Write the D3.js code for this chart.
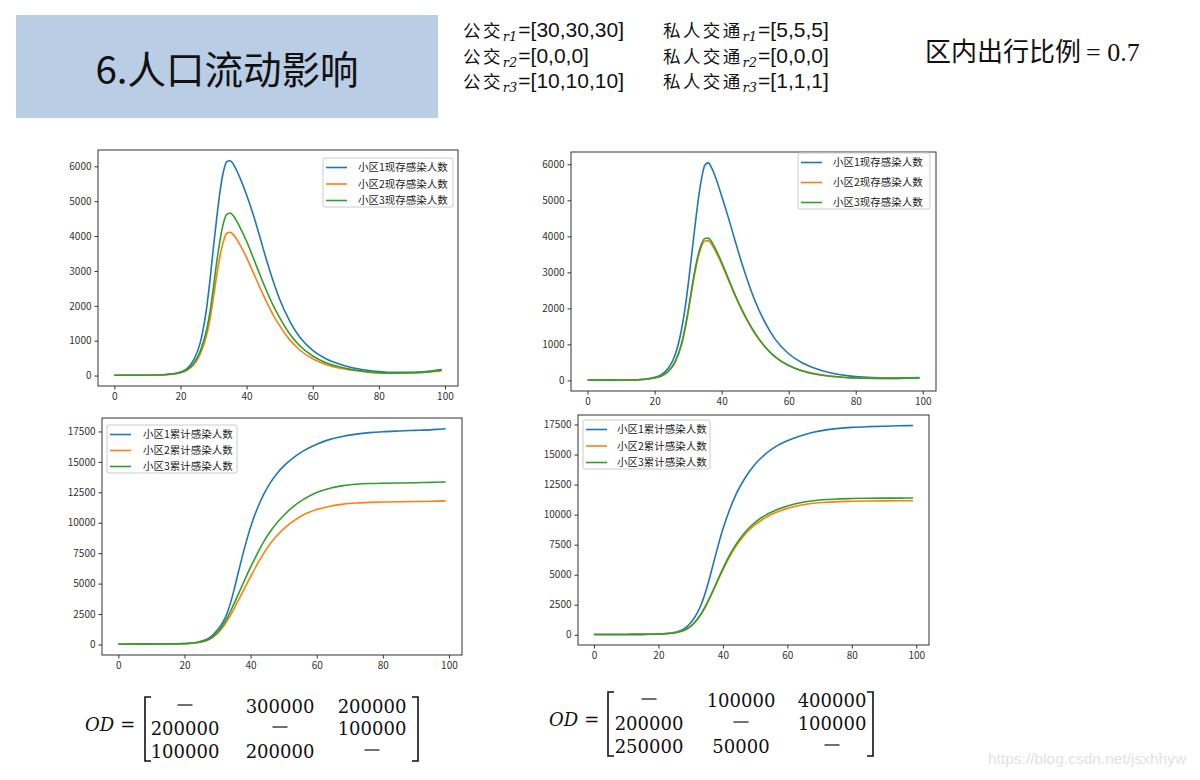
<!DOCTYPE html>
<html><head><meta charset="utf-8">
<script src="https://cdn.jsdelivr.net/npm/d3@7"></script>
<style>body{margin:0;background:#fff}svg{display:block}</style>
</head><body>
<svg id="c" width="1200" height="780"></svg>
<script>
// ---------------- data ----------------
const days = [0,5,10,15,18,20,22,24,26,28,29,30,31,32,33,34,35,36,37,38,40,42,44,46,48,50,53,56,60,64,68,72,76,80,85,90,95,99];

// top-left: current infected
const activeL1 = [10,8,10,25,55,100,200,450,950,2000,2800,3700,4550,5300,5850,6130,6160,6060,5880,5670,5180,4620,3980,3320,2720,2190,1570,1110,720,480,330,225,160,115,90,95,125,175];
const activeL2 = [10,8,10,20,45,80,150,310,620,1200,1650,2250,2900,3450,3850,4080,4110,4040,3910,3750,3380,2960,2530,2120,1750,1430,1030,740,480,320,215,150,105,75,65,75,100,140];
const activeL3 = [10,8,10,22,50,90,170,350,700,1350,1870,2550,3280,3900,4370,4620,4660,4580,4430,4250,3850,3380,2900,2440,2020,1660,1200,860,560,370,250,170,120,85,70,80,105,150];

// top-right: current infected
const activeR1 = [10,8,10,20,45,85,160,330,680,1400,1950,2650,3450,4250,5000,5600,5980,6040,5900,5680,5120,4520,3880,3260,2700,2200,1600,1140,740,490,330,220,150,105,78,68,70,78];
const activeR2 = [10,8,10,18,40,70,120,240,480,980,1380,1880,2450,2980,3420,3720,3870,3880,3780,3620,3230,2790,2350,1950,1600,1290,920,650,410,265,175,120,88,68,58,57,62,70];
const activeR3 = [10,8,10,18,40,72,125,250,500,1010,1420,1930,2510,3050,3490,3790,3940,3950,3850,3680,3280,2830,2380,1975,1620,1305,930,655,415,268,177,121,89,69,59,58,63,72];

// bottom-left: cumulative infected
const cumL1 = [20,25,30,40,55,75,110,190,340,650,900,1200,1560,2020,2650,3480,4500,5600,6700,7750,9650,11150,12350,13300,14050,14650,15350,15900,16450,16850,17100,17280,17400,17480,17540,17590,17650,17720];
const cumL2 = [20,25,30,38,50,65,95,150,260,480,660,900,1200,1560,1980,2450,2950,3470,4000,4530,5580,6580,7500,8300,8950,9500,10150,10650,11080,11360,11530,11620,11670,11700,11720,11740,11770,11800];
const cumL3 = [20,25,30,38,52,68,100,160,280,520,740,1000,1340,1750,2230,2770,3350,3950,4560,5170,6350,7450,8450,9300,10000,10600,11350,11920,12480,12840,13050,13160,13220,13250,13270,13290,13320,13350];

// bottom-right: cumulative infected
const cumR1 = [20,25,30,38,50,65,95,150,260,500,720,1000,1350,1800,2350,3050,3900,4850,5880,6900,8800,10350,11650,12650,13500,14200,15000,15600,16150,16550,16850,17050,17180,17260,17320,17360,17390,17420];
const cumR2 = [20,25,30,36,46,58,82,125,210,380,520,710,950,1250,1620,2050,2540,3080,3660,4250,5400,6450,7350,8080,8680,9160,9720,10130,10520,10780,10940,11030,11080,11110,11130,11145,11155,11160];
const cumR3 = [20,25,30,36,46,58,82,126,212,385,527,720,963,1268,1645,2085,2585,3135,3725,4325,5500,6580,7500,8250,8860,9360,9920,10330,10720,10990,11160,11260,11310,11340,11360,11370,11375,11380];

const activeNames = ["小区1现存感染人数","小区2现存感染人数","小区3现存感染人数"];
const cumNames = ["小区1累计感染人数","小区2累计感染人数","小区3累计感染人数"];
const xTicks = [0,20,40,60,80,100];
const yTicksActive = [0,1000,2000,3000,4000,5000,6000];
const yTicksCum = [0,2500,5000,7500,10000,12500,15000,17500];

const odLeft = [["—","300000","200000"],["200000","—","100000"],["100000","200000","—"]];
const odRight = [["—","100000","400000"],["200000","—","100000"],["250000","50000","—"]];

const title = "6.人口流动影响";
const busParams = [["1","[30,30,30]"],["2","[0,0,0]"],["3","[10,10,10]"]];
const carParams = [["1","[5,5,5]"],["2","[0,0,0]"],["3","[1,1,1]"]];
const ratioLabel = "区内出行比例";
const ratioValue = "= 0.7";
const watermark = "https://blog.csdn.net/jsxhhyw";

// ---------------- drawing ----------------
const colors = ["#1f77b4","#ff7f0e","#2ca02c"];
const svg = d3.select("#c");
const CJK = "'Noto Sans CJK SC','Noto Sans',sans-serif";
const SANS = "'Liberation Sans',Arial,sans-serif";
const SERIF = "'DejaVu Serif','Liberation Serif',serif";

// header
svg.append("rect").attr("x",16).attr("y",15).attr("width",422).attr("height",103).attr("fill","#b9cde5");
svg.append("text").attr("x",227).attr("y",84).attr("text-anchor","middle")
  .attr("font-family",CJK).attr("font-size",38.5).attr("fill","#111").text(title);

function paramLine(x, y, label, sub, val){
  const t = svg.append("text").attr("x",x).attr("y",y).attr("fill","#111");
  t.append("tspan").attr("font-family",CJK).attr("font-size",17.5).attr("letter-spacing",2.4).text(label);
  t.append("tspan").attr("font-family",SERIF).attr("font-style","italic").attr("font-size",13).attr("dy",4).text("r"+sub);
  t.append("tspan").attr("font-family",SANS).attr("font-size",21).attr("dy",-4).attr("dx",1).text("="+val);
}
busParams.forEach((p,i)=>paramLine(463, 37+i*25.5, "公交", p[0], p[1]));
carParams.forEach((p,i)=>paramLine(663, 37+i*25.5, "私人交通", p[0], p[1]));

const rt = svg.append("text").attr("x",925).attr("y",61).attr("fill","#111");
rt.append("tspan").attr("font-family",CJK).attr("font-size",26).text(ratioLabel);
rt.append("tspan").attr("font-family","'Liberation Serif',serif").attr("font-size",26).attr("dx",5).text(ratioValue);

// panels
const panels = [
  {box:[98,150,458,386], data:[activeL1,activeL2,activeL3], names:activeNames, yt:yTicksActive, leg:[323,158,130,49], legText:35},
  {box:[571,152,936,391], data:[activeR1,activeR2,activeR3], names:activeNames, yt:yTicksActive, leg:[798,153,132,56], legText:35},
  {box:[102,418,462,655], data:[cumL1,cumL2,cumL3], names:cumNames, yt:yTicksCum, leg:[107,425,130,48], legText:36},
  {box:[578,415,929,645], data:[cumR1,cumR2,cumR3], names:cumNames, yt:yTicksCum, leg:[583,420,127,49], legText:34}
];

panels.forEach(p=>{
  const [l,t,r,b] = p.box;
  const all = p.data.flat();
  const mn = d3.min(all), mx = d3.max(all), pad = (mx-mn)*0.05;
  const x = d3.scaleLinear().domain([-4.95,103.95]).range([l,r]);
  const y = d3.scaleLinear().domain([mn-pad, mx+pad]).range([b,t]);
  const g = svg.append("g");
  const clipId = "clip"+l;
  g.append("clipPath").attr("id",clipId).append("rect").attr("x",l).attr("y",t).attr("width",r-l).attr("height",b-t);
  const line = d3.line().x((d,i)=>x(days[i])).y(d=>y(d)).curve(d3.curveMonotoneX);
  p.data.forEach((s,i)=>{
    g.append("path").attr("d",line(s)).attr("fill","none").attr("stroke",colors[i])
      .attr("stroke-width",1.6).attr("clip-path",`url(#${clipId})`);
  });
  const ax = g.append("g").attr("transform",`translate(0,${b})`)
    .call(d3.axisBottom(x).tickValues(xTicks).tickSize(3.5).tickPadding(3));
  const ay = g.append("g").attr("transform",`translate(${l},0)`)
    .call(d3.axisLeft(y).tickValues(p.yt).tickSize(3.5).tickPadding(3).tickFormat(d3.format("d")));
  [ax,ay].forEach(a=>{
    a.select(".domain").remove();
    a.selectAll("line").attr("stroke","#333");
    a.selectAll("text").attr("font-family",CJK).attr("font-size",10).attr("fill","#333");
  });
  g.append("rect").attr("x",l).attr("y",t).attr("width",r-l).attr("height",b-t)
    .attr("fill","none").attr("stroke","#333").attr("stroke-width",1);
  const [lx,ly,lw,lh] = p.leg;
  g.append("rect").attr("x",lx).attr("y",ly).attr("width",lw).attr("height",lh).attr("rx",2)
    .attr("fill","#fff").attr("fill-opacity",0.85).attr("stroke","#ccc");
  const rowH = (lh-16)/2;
  p.names.forEach((n,i)=>{
    const ry = ly+9.5+i*rowH;
    g.append("line").attr("x1",lx+3).attr("x2",lx+24).attr("y1",ry).attr("y2",ry)
      .attr("stroke",colors[i]).attr("stroke-width",1.6);
    g.append("text").attr("x",lx+p.legText).attr("y",ry+3.8).attr("font-family",CJK)
      .attr("font-size",10.5).attr("fill","#222").text(n);
  });
});

// OD matrices
function matrix(od, odX, bx0, bx1, cols, rows, top, bottom){
  const t = svg.append("text").attr("x",odX).attr("y",rows[1]-4).attr("font-family",SERIF).attr("font-size",18).attr("fill","#111");
  t.append("tspan").attr("font-style","italic").text("OD");
  t.append("tspan").attr("dx",6).text("=");
  const br = (x, dir)=>`M${x+dir*6},${top} L${x},${top} L${x},${bottom} L${x+dir*6},${bottom}`;
  svg.append("path").attr("d",br(bx0,1)).attr("fill","none").attr("stroke","#111").attr("stroke-width",1.6);
  svg.append("path").attr("d",br(bx1,-1)).attr("fill","none").attr("stroke","#111").attr("stroke-width",1.6);
  od.forEach((row,i)=>row.forEach((v,j)=>{
    if (v==="—") {
      svg.append("line").attr("x1",cols[j]-7.5).attr("x2",cols[j]+7.5)
        .attr("y1",rows[i]-8).attr("y2",rows[i]-8).attr("stroke","#111").attr("stroke-width",1.2);
    } else {
      svg.append("text").attr("x",cols[j]).attr("y",rows[i]).attr("text-anchor","middle")
        .attr("font-family",SERIF).attr("font-size",18).attr("fill","#111").text(v);
    }
  }));
}
matrix(odLeft, 85, 145, 418, [185,280,372], [713,735,758], 697, 761);
matrix(odRight, 549, 608, 873, [649,741,832], [707,730,753], 692, 756);

svg.append("text").attr("x",988).attr("y",764).attr("font-family",SANS)
  .attr("font-size",15.5).attr("fill","#e2e2e2").text(watermark);
</script>
</body></html>
